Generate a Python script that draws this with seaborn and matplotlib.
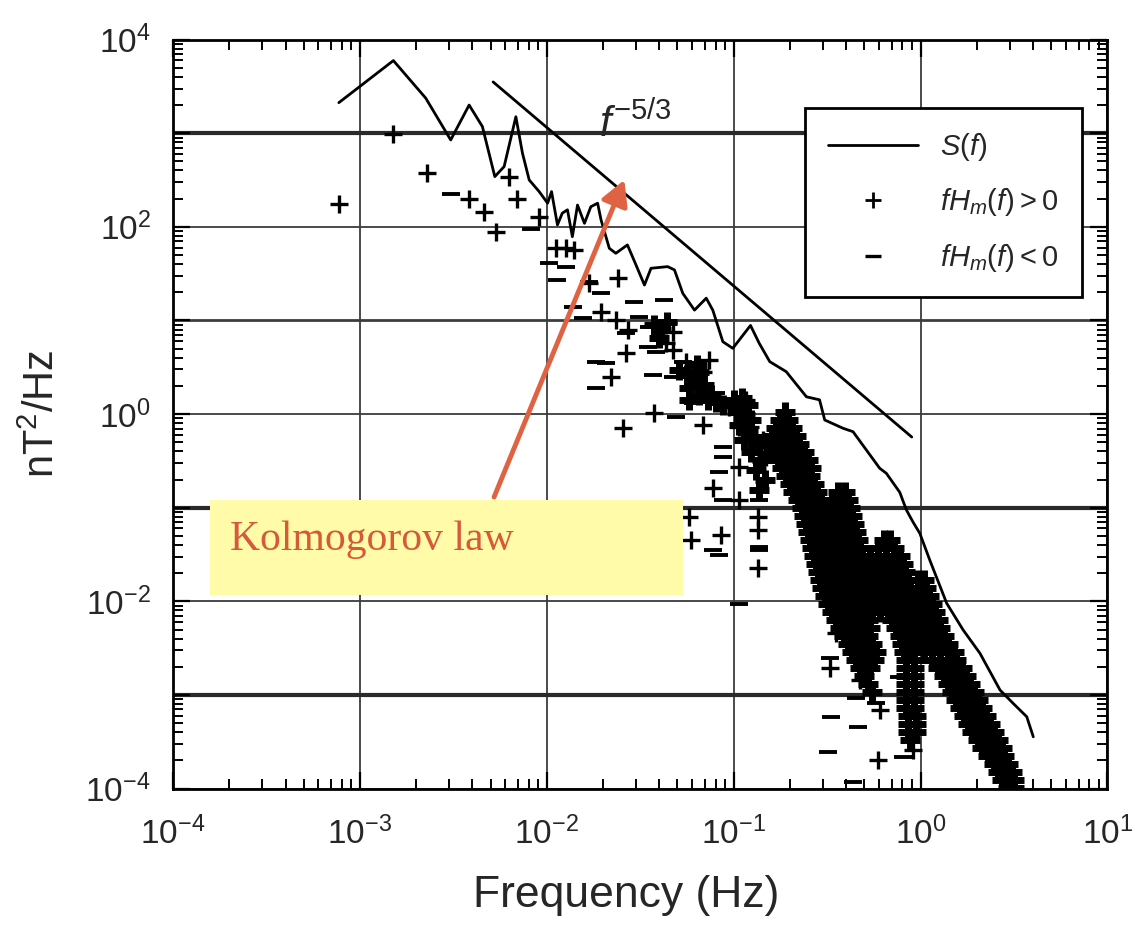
import numpy as np
import pandas as pd
import matplotlib
matplotlib.use("Agg")
import matplotlib.pyplot as plt
import seaborn as sns
from matplotlib.lines import Line2D
from matplotlib.patches import Rectangle
from matplotlib.ticker import LogLocator, NullFormatter, FuncFormatter

# ---------------- data ----------------
# Power spectrum S(f)
S_freq = [7.71e-4, 1.51e-3, 2.25e-3, 3.06e-3, 3.84e-3, 4.52e-3, 5.27e-3, 5.91e-3, 6.83e-3, 7.41e-3,
          8.05e-3, 9.10e-3, 1.01e-2, 1.06e-2, 1.14e-2, 1.21e-2, 1.29e-2, 1.37e-2, 1.46e-2, 1.59e-2,
          1.72e-2, 1.87e-2, 1.95e-2, 2.16e-2, 2.34e-2, 2.70e-2, 3.00e-2, 3.33e-2, 3.61e-2, 4.43e-2,
          4.82e-2, 5.34e-2, 6.17e-2, 7.13e-2, 7.73e-2, 8.75e-2, 9.89e-2, 0.123, 0.137, 0.156,
          0.191, 0.245, 0.288, 0.307, 0.385, 0.435, 0.513, 0.604, 0.656, 0.774,
          0.840, 0.911, 0.991, 1.12, 1.38, 1.69, 2.08, 2.66, 3.13, 3.70, 4.01]
S_value = [2120, 5970, 2370, 848, 2000, 1180, 344, 440, 1500, 611,
           317, 238, 179, 238, 105, 140, 152, 78.5, 171, 109,
           164, 179, 119, 59, 52.2, 64.1, 39.2, 23.9, 36.1, 37.6,
           34.7, 19.5, 12.9, 17.3, 12.9, 5.93, 5.04, 8.85, 5.70, 3.63,
           2.84, 1.53, 1.42, 0.865, 0.705, 0.649, 0.413, 0.264, 0.233, 0.146,
           0.0945, 0.0703, 0.0532, 0.0276, 0.00952, 0.00494, 0.00278, 0.00113, 8.12e-4, 5.85e-4, 3.57e-4]

# Kolmogorov f^-5/3 reference line (end points)
kolmo_freq = [5.16e-3, 0.897]
kolmo_value = [3532, 0.569]

# fHm(f) > 0, isolated points (log10 of frequency / value)
plus_log10_freq = [-3.113, -2.822, -2.643, -2.416, -2.335, -2.273, -2.201, -2.162, -2.041, -1.951,
                   -1.898, -1.853, -1.773, -1.621, -1.710, -1.630, -1.568, -1.353, -1.326, -1.362,
                   -1.576, -1.326, -1.130, -1.255, -1.656, -1.166, -1.424, -1.594, -1.166, -1.023,
                   -0.933, -0.969, -0.969, -0.969, -1.112, -1.237, -1.228, -1.067, -0.871, -0.871,
                   -0.871, -0.915, -0.844, -0.826, -0.487, -0.451, -0.326, -0.219, -0.228, -0.040,
                   -0.058]
plus_log10_value = [2.245, 2.989, 2.573, 2.295, 2.162, 1.949, 2.530, 2.295, 2.103, 1.771,
                    1.771, 1.753, 1.397, 1.451, 1.094, 1.005, 0.898, 0.970, 0.880, 0.756,
                    0.650, 0.685, 0.578, 0.560, 0.400, 0.453, 0.008, -0.152, -0.117, 0.079,
                    0.151, -0.135, -0.562, -0.918, -0.793, -1.096, -1.345, -1.292, -1.096, -1.238,
                    -1.647, -0.135, -0.277, -0.455, -2.716, -2.342, -2.841, -3.161, -3.695, -3.589,
                    -3.410]

# fHm(f) > 0, small clusters around 0.05-0.15 Hz
cluster_log10_freq = [-0.996, -0.958, -0.926, -0.980, -0.942, -0.905, -0.969, -0.926, -0.889, -0.947,
                      -0.862, -0.905, -0.851, -0.878, -0.835, -0.862, -1.290, -1.248, -1.210, -1.183,
                      -1.157, -1.237, -1.119, -1.194, -1.424, -1.387, -1.355, -1.398, -1.183, -1.140,
                      -1.097, -1.055, -1.237]
cluster_log10_value = [0.151, 0.172, 0.097, 0.022, -0.010, -0.063, -0.117, -0.170, -0.245, -0.277,
                       -0.330, -0.405, -0.490, -0.597, -0.704, -0.811, 0.472, 0.418, 0.365, 0.450,
                       0.311, 0.279, 0.204, 0.525, 0.952, 0.898, 0.984, 0.813, 0.204, 0.151,
                       0.129, 0.097, 0.151]

# fHm(f) > 0, dense band: one row per value level
band_log10_value = [0.022, -0.063, -0.149, -0.234, -0.320, -0.405, -0.490, -0.576, -0.661, -0.747,
                    -0.832, -0.918, -1.003, -1.089, -1.174, -1.260, -1.345, -1.431, -1.516, -1.602,
                    -1.687, -1.773, -1.858, -1.944, -2.029, -2.115, -2.200, -2.286, -2.371, -2.457,
                    -2.542, -2.628, -2.713, -2.799, -2.884, -2.969, -3.055, -3.140, -3.226, -3.311,
                    -3.397, -3.482, -3.568, -3.653, -3.739, -3.824, -3.910, -3.995]
band_log10_freq = [
    [-0.728],
    [-0.754, -0.712],
    [-0.776, -0.733, -0.690],
    [-0.797, -0.754, -0.712, -0.669],
    [-0.808, -0.765, -0.722, -0.680, -0.648],
    [-0.787, -0.744, -0.701, -0.658, -0.626],
    [-0.765, -0.722, -0.680, -0.637, -0.604],
    [-0.744, -0.701, -0.658, -0.615, -0.588],
    [-0.722, -0.680, -0.637, -0.594],
    [-0.701, -0.658, -0.615, -0.572],
    [-0.680, -0.637, -0.594, -0.556, -0.444, -0.406],
    [-0.658, -0.615, -0.572, -0.535, -0.476, -0.433, -0.390],
    [-0.637, -0.594, -0.551, -0.508, -0.465, -0.422, -0.379],
    [-0.626, -0.583, -0.540, -0.497, -0.454, -0.412, -0.369],
    [-0.615, -0.572, -0.530, -0.487, -0.444, -0.401, -0.358],
    [-0.604, -0.562, -0.519, -0.476, -0.433, -0.390, -0.347],
    [-0.594, -0.551, -0.508, -0.465, -0.422, -0.379, -0.337, -0.197, -0.165],
    [-0.583, -0.540, -0.497, -0.454, -0.412, -0.369, -0.326, -0.229, -0.186, -0.144],
    [-0.572, -0.530, -0.487, -0.444, -0.401, -0.358, -0.315, -0.272, -0.229, -0.186, -0.144, -0.112],
    [-0.562, -0.519, -0.476, -0.433, -0.390, -0.347, -0.304, -0.262, -0.219, -0.176, -0.133, -0.096],
    [-0.551, -0.508, -0.465, -0.422, -0.379, -0.337, -0.294, -0.251, -0.208, -0.165, -0.122, -0.085],
    [-0.540, -0.497, -0.454, -0.412, -0.369, -0.326, -0.283, -0.240, -0.197, -0.154, -0.112, -0.069, -0.015, 0.017],
    [-0.530, -0.487, -0.444, -0.401, -0.358, -0.315, -0.272, -0.229, -0.186, -0.144, -0.101, -0.058, -0.015, 0.028],
    [-0.513, -0.470, -0.428, -0.385, -0.342, -0.299, -0.256, -0.213, -0.170, -0.128, -0.085, -0.042, 0.001, 0.044],
    [-0.497, -0.454, -0.412, -0.369, -0.326, -0.283, -0.240, -0.197, -0.154, -0.112, -0.069, -0.026, 0.017, 0.060],
    [-0.476, -0.433, -0.390, -0.347, -0.304, -0.262, -0.219, -0.176, -0.133, -0.090, -0.047, -0.004, 0.039, 0.076],
    [-0.454, -0.412, -0.369, -0.326, -0.283, -0.154, -0.112, -0.069, -0.026, 0.017, 0.060, 0.092],
    [-0.433, -0.390, -0.347, -0.304, -0.272, -0.133, -0.090, -0.047, -0.004, 0.039, 0.081, 0.103],
    [-0.412, -0.369, -0.326, -0.283, -0.112, -0.069, -0.026, 0.017, 0.060, 0.103, 0.124],
    [-0.390, -0.347, -0.304, -0.262, -0.101, -0.058, -0.015, 0.028, 0.071, 0.114, 0.146],
    [-0.369, -0.326, -0.283, -0.240, -0.090, -0.047, 0.017, 0.060, 0.103, 0.146, 0.178],
    [-0.347, -0.294, -0.251, -0.079, -0.036, 0.060, 0.103, 0.146, 0.189],
    [-0.326, -0.272, -0.079, -0.036, 0.092, 0.135, 0.178, 0.221],
    [-0.304, -0.079, -0.036, 0.124, 0.167, 0.210, 0.242],
    [-0.283, -0.079, -0.036, 0.146, 0.189, 0.232, 0.264],
    [-0.262, -0.079, -0.036, 0.167, 0.210, 0.253, 0.285],
    [-0.079, -0.036, 0.189, 0.232, 0.274, 0.307],
    [-0.079, -0.036, 0.210, 0.253, 0.296, 0.328],
    [-0.069, -0.026, 0.232, 0.274, 0.317, 0.349],
    [-0.069, -0.026, 0.253, 0.296, 0.339, 0.371],
    [-0.069, -0.026, 0.274, 0.317, 0.360, 0.392],
    [-0.058, 0.307, 0.349, 0.392, 0.414],
    [0.328, 0.371, 0.414, 0.435],
    [0.360, 0.403, 0.446],
    [0.392, 0.435, 0.467],
    [0.414, 0.457, 0.489],
    [0.435, 0.478, 0.499],
    [0.467, 0.499],
]

# fHm(f) < 0 points (log10 of frequency / value)
minus_log10_freq = [-2.514, -2.085, -1.987, -1.898, -1.943, -1.773, -1.710, -1.862, -1.809, -1.532,
                    -1.371, -1.505, -1.451, -1.576, -1.460, -1.737, -1.683, -1.415, -1.737, -1.433,
                    -1.326, -1.273, -1.308, -1.219, -1.094, -1.058, -1.058, -1.076, -1.058, -0.862,
                    -0.862, -0.862, -1.112, -1.076, -0.969, -0.487, -0.478, -0.496, -0.335, -0.344,
                    -0.237, -0.094, -0.113, -0.363]
minus_log10_value = [2.351, 1.974, 1.611, 1.575, 1.433, 1.415, 1.291, 1.147, 1.023, 1.201,
                     1.219, 1.041, 0.934, 0.863, 0.720, 0.560, 0.543, 0.667, 0.276, 0.418,
                     0.400, 0.560, -0.028, 0.115, 0.222, -0.348, -0.455, -0.615, -0.918, -0.918,
                     -1.417, -1.452, -1.452, -1.505, -2.028, -2.609, -3.233, -3.607, -3.340, -3.036,
                     -3.090, -3.660, -2.805, -3.930]

legend_labels = [r"$S(f)$", r"$fH_m(f){>}0$", r"$fH_m(f){<}0$"]
x_label = "Frequency (Hz)"
y_label = r"nT$^2$/Hz"
slope_label = r"$f^{-5/3}$"
note_text = "Kolmogorov law"

# ---------------- build tables ----------------
band_f, band_v = [], []
for lv, row in zip(band_log10_value, band_log10_freq):
    for lf in row:
        band_f.append(lf)
        band_v.append(lv)
plus_df = pd.DataFrame({
    "freq": 10.0 ** np.array(plus_log10_freq),
    "value": 10.0 ** np.array(plus_log10_value),
})
dense_df = pd.DataFrame({
    "freq": 10.0 ** np.array(cluster_log10_freq + band_f),
    "value": 10.0 ** np.array(cluster_log10_value + band_v),
})
minus_df = pd.DataFrame({
    "freq": 10.0 ** np.array(minus_log10_freq),
    "value": 10.0 ** np.array(minus_log10_value),
})
spec_df = pd.DataFrame({"freq": S_freq, "value": S_value})
kolmo_df = pd.DataFrame({"freq": kolmo_freq, "value": kolmo_value})

# ---------------- style ----------------
sns.set_style("ticks")
plt.rcParams['font.family'] = ['Liberation Sans', 'DejaVu Sans']
plt.rcParams['mathtext.fontset'] = 'custom'
plt.rcParams['mathtext.rm'] = 'Liberation Sans'
plt.rcParams['mathtext.it'] = 'Liberation Sans:italic'
plt.rcParams['mathtext.bf'] = 'Liberation Sans:bold'

fig = plt.figure(figsize=(11.43, 9.32), dpi=100)
ax = fig.add_axes([0.1514, 0.1539, 0.8175, 0.8036])
ax.set_xscale("log")
ax.set_yscale("log")

sns.scatterplot(data=dense_df, x="freq", y="value", marker="+", color="black",
                s=220, linewidth=5.0, ax=ax, zorder=3, legend=False)
sns.scatterplot(data=plus_df, x="freq", y="value", marker="+", color="black",
                s=150, linewidth=2.4, ax=ax, zorder=3, legend=False)
sns.scatterplot(data=minus_df, x="freq", y="value", marker="_", color="black",
                s=150, linewidth=2.8, ax=ax, zorder=3, legend=False)
sns.lineplot(data=spec_df, x="freq", y="value", color="black", lw=2.0,
             estimator=None, sort=False, ax=ax, zorder=4)
sns.lineplot(data=kolmo_df, x="freq", y="value", color="black", lw=2.0,
             estimator=None, sort=False, ax=ax, zorder=4)

ax.set_xlim(1e-4, 1e1)
ax.set_ylim(1e-4, 1e4)

ax.xaxis.set_major_locator(LogLocator(base=10, numticks=20))
ax.yaxis.set_major_locator(LogLocator(base=10, numticks=20))
ax.xaxis.set_minor_locator(LogLocator(base=10, subs=np.arange(2, 10), numticks=100))
ax.yaxis.set_minor_locator(LogLocator(base=10, subs=np.arange(2, 10), numticks=100))
ax.xaxis.set_minor_formatter(NullFormatter())
ax.yaxis.set_minor_formatter(NullFormatter())

def fmt_x(v, pos):
    e = int(round(np.log10(v)))
    return r"$\mathdefault{10^{%d}}$" % e

def fmt_y(v, pos):
    e = int(round(np.log10(v)))
    return r"$\mathdefault{10^{%d}}$" % e if e % 2 == 0 else ""

ax.xaxis.set_major_formatter(FuncFormatter(fmt_x))
ax.yaxis.set_major_formatter(FuncFormatter(fmt_y))

ax.tick_params(which="both", direction="in", top=True, right=True, color="black")
ax.tick_params(which="major", length=12, width=1.6, labelsize=24)
ax.tick_params(axis="x", which="major", pad=20)
ax.tick_params(axis="y", which="major", pad=16)
ax.tick_params(which="minor", length=7, width=1.4)

ax.grid(which="major", color="#3c3c3c", lw=1.3)
for t, loc in zip(ax.yaxis.get_major_ticks(), ax.yaxis.get_majorticklocs()):
    e = int(round(np.log10(loc)))
    if e in (3, -1, -3):
        t.gridline.set_linewidth(3.0)
        t.gridline.set_color("#2a2a2a")
    elif e == 1:
        t.gridline.set_linewidth(2.0)
ax.set_axisbelow(True)

for sp in ax.spines.values():
    sp.set_linewidth(2.0)
    sp.set_color("black")

ax.set_xlabel(x_label, fontsize=32, labelpad=22)
ax.xaxis.set_label_coords(0.485, -0.115)
ax.set_ylabel(y_label, fontsize=30, labelpad=16)

# f^-5/3 label
ax.text(0.0191, 912, slope_label, fontsize=30, ha="left", va="baseline", zorder=5)

# legend
handles = [
    Line2D([], [], color="black", lw=2.0),
    Line2D([], [], color="black", marker="+", ls="none", markersize=11, mew=2.0),
    Line2D([], [], color="black", marker="_", ls="none", markersize=11, mew=2.4),
]
leg = ax.legend(handles, legend_labels, loc="upper left", bbox_to_anchor=(0.676, 0.909),
                borderaxespad=0, fontsize=21, handlelength=3.1, handletextpad=0.75,
                borderpad=0.8, labelspacing=0.8, fancybox=False, framealpha=1,
                edgecolor="black")
leg.get_frame().set_linewidth(2.0)
leg.set_zorder(6)

# Kolmogorov annotation
ax.add_patch(Rectangle((0.0396, 0.2585), 0.5064, 0.1269, transform=ax.transAxes,
                       facecolor="#FFFBA8", edgecolor="none", zorder=7))
ax.text(0.061, 0.332, note_text, transform=ax.transAxes, fontsize=30,
        family=["Liberation Serif", "DejaVu Serif"], color="#D5593A",
        ha="left", va="center", zorder=8)
ax.annotate("", xy=(0.026, 317), xytext=(5.22e-3, 0.130), xycoords="data",
            arrowprops=dict(arrowstyle="-|>,head_length=1.0,head_width=0.55",
                            color="#DF6343", lw=3.5, shrinkA=0, shrinkB=0,
                            mutation_scale=15),
            zorder=8)

fig.savefig("out.png", dpi=100)
